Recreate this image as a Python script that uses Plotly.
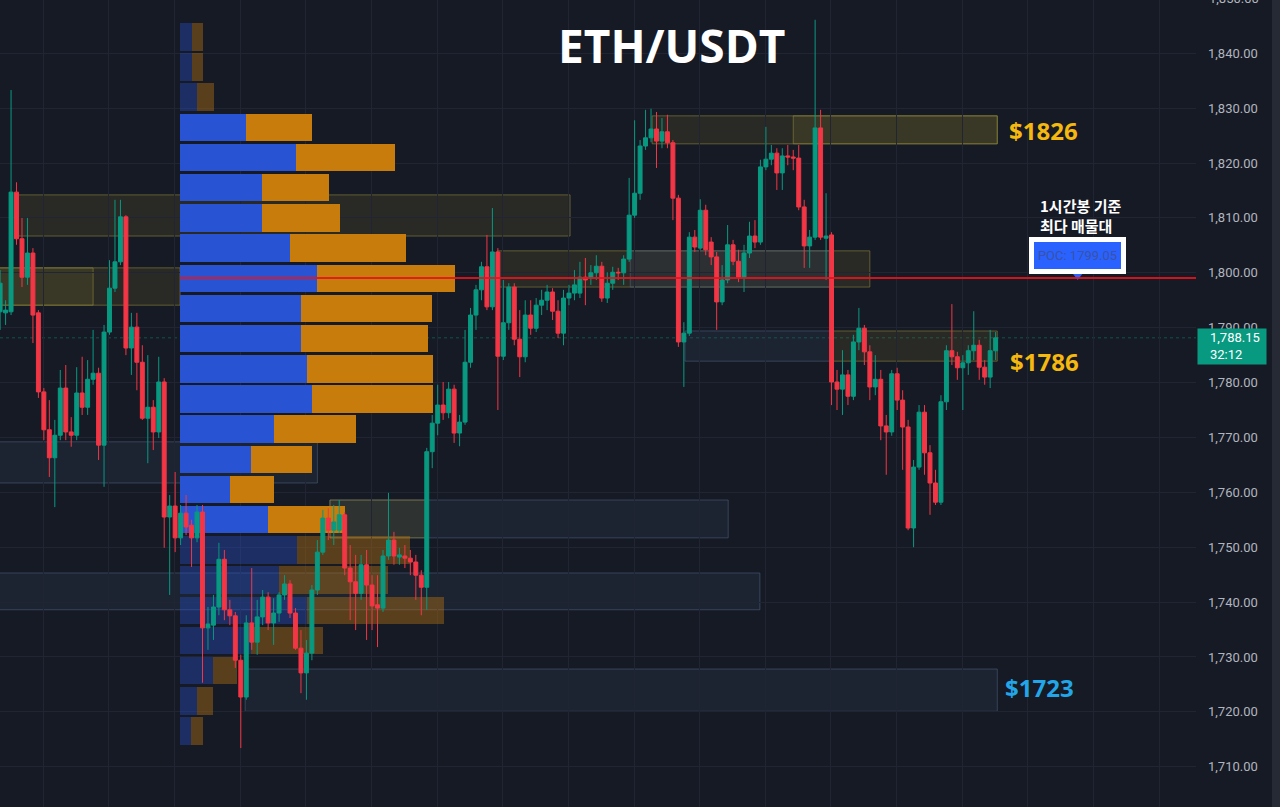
import plotly.graph_objects as go

# ---------------- data ----------------
opens = [
    1792.9, 1792.7, 1792.9, 1814.7, 1806.2, 1799.2, 1803.6, 1792.7, 1778.3, 1771.4,
    1766.3, 1770.4, 1779.0, 1771.0, 1770.4, 1778.1, 1775.5, 1780.6, 1781.7, 1768.6,
    1789.2, 1797.2, 1802.0, 1810.2, 1786.3, 1790.1, 1783.7, 1773.5, 1775.5, 1771.0,
    1780.1, 1755.5, 1757.5, 1751.7, 1756.2, 1754.0, 1751.7, 1756.4, 1735.3, 1735.8,
    1739.1, 1747.8, 1738.6, 1737.5, 1729.4, 1722.7, 1736.2, 1732.7, 1737.3, 1740.9,
    1736.2, 1738.0, 1741.3, 1743.3, 1738.0, 1731.6, 1727.1, 1730.7, 1742.2, 1749.1,
    1755.3, 1753.1, 1753.1, 1755.9, 1746.2, 1743.7, 1741.6, 1746.8, 1743.1, 1739.5,
    1738.9, 1748.4, 1751.3, 1748.2, 1748.4, 1748.0, 1747.3, 1744.9, 1742.7, 1767.4,
    1772.6, 1775.9, 1774.5, 1778.8, 1770.8, 1772.8, 1783.7, 1792.3, 1796.9, 1801.1,
    1793.8, 1803.8, 1784.8, 1790.9, 1797.4, 1787.9, 1784.7, 1792.3, 1789.9, 1794.1,
    1795.0, 1796.5, 1793.0, 1789.0, 1795.4, 1796.3, 1796.3, 1799.2, 1799.1, 1800.0,
    1801.2, 1795.4, 1798.1, 1800.1, 1800.0, 1802.5, 1810.5, 1814.5, 1823.1, 1824.6,
    1826.2, 1824.0, 1825.7, 1823.7, 1813.6, 1787.4, 1789.0, 1806.5, 1804.5, 1811.4,
    1805.6, 1802.9, 1794.7, 1798.7, 1805.1, 1802.1, 1799.2, 1803.6, 1806.7, 1805.6,
    1819.3, 1820.7, 1821.8, 1818.2, 1821.3, 1821.1, 1820.9, 1812.0, 1804.9, 1806.5,
    1826.4, 1806.3, 1806.9, 1780.1, 1778.8, 1781.4, 1777.5, 1787.4, 1789.9, 1785.6,
    1779.2, 1780.6, 1772.1, 1771.0, 1781.6, 1776.8, 1771.9, 1753.5, 1764.6, 1774.6,
    1767.2, 1761.7, 1758.2, 1776.5, 1785.8, 1784.7, 1782.7, 1783.6, 1785.8, 1786.8,
    1782.8, 1781.0, 1785.8]

highs = [
    1800.5, 1795.0, 1833.3, 1816.5, 1810.0, 1810.0, 1804.5, 1793.2, 1779.0, 1776.8,
    1773.2, 1782.3, 1783.2, 1773.7, 1782.8, 1784.7, 1784.1, 1789.6, 1782.7, 1790.5,
    1802.3, 1813.3, 1813.3, 1810.5, 1792.7, 1792.7, 1786.8, 1785.0, 1776.8, 1784.7,
    1780.8, 1759.5, 1763.7, 1757.7, 1759.5, 1755.0, 1757.7, 1757.7, 1739.1, 1741.3,
    1750.8, 1749.5, 1740.4, 1738.2, 1730.4, 1737.6, 1746.2, 1740.4, 1742.2, 1741.8,
    1740.7, 1741.8, 1744.9, 1744.0, 1738.9, 1734.9, 1733.1, 1743.1, 1751.3, 1756.8,
    1757.1, 1757.7, 1758.6, 1756.4, 1750.4, 1748.6, 1748.6, 1749.5, 1744.9, 1744.9,
    1749.5, 1759.9, 1752.8, 1749.9, 1750.4, 1749.5, 1748.6, 1745.8, 1768.1, 1774.1,
    1779.6, 1780.1, 1780.1, 1779.6, 1774.1, 1789.6, 1793.6, 1797.8, 1802.0, 1806.9,
    1811.8, 1804.5, 1798.7, 1798.1, 1798.1, 1793.2, 1795.0, 1795.0, 1795.4, 1796.9,
    1797.8, 1797.2, 1795.0, 1796.9, 1797.8, 1800.5, 1802.0, 1802.7, 1801.4, 1803.2,
    1802.0, 1800.1, 1801.1, 1800.9, 1803.2, 1817.3, 1827.8, 1824.2, 1829.7, 1829.9,
    1829.3, 1828.2, 1828.8, 1824.2, 1814.2, 1791.0, 1807.4, 1807.8, 1813.4, 1812.4,
    1806.5, 1803.8, 1801.4, 1808.7, 1806.0, 1804.2, 1805.1, 1809.3, 1809.6, 1820.6,
    1826.6, 1823.3, 1822.7, 1822.7, 1823.3, 1822.4, 1823.3, 1813.3, 1807.8, 1846.1,
    1829.7, 1814.5, 1807.4, 1782.3, 1785.9, 1782.3, 1788.7, 1793.6, 1790.5, 1786.8,
    1785.0, 1782.3, 1774.1, 1782.3, 1782.7, 1778.6, 1773.2, 1765.9, 1775.9, 1775.9,
    1768.6, 1764.1, 1777.7, 1786.8, 1794.3, 1785.6, 1785.0, 1786.8, 1793.0, 1787.8,
    1784.1, 1789.6, 1789.2]

lows = [
    1789.6, 1790.5, 1792.3, 1805.1, 1797.4, 1797.8, 1787.2, 1777.2, 1769.5, 1762.8,
    1757.3, 1769.5, 1769.5, 1768.3, 1769.5, 1774.1, 1774.1, 1779.6, 1765.9, 1761.0,
    1788.7, 1796.5, 1801.4, 1785.0, 1781.4, 1778.6, 1773.2, 1765.3, 1767.7, 1769.9,
    1749.9, 1741.3, 1749.1, 1750.4, 1752.2, 1746.4, 1750.9, 1725.3, 1731.3, 1733.1,
    1737.6, 1736.7, 1735.8, 1728.0, 1713.4, 1722.2, 1731.3, 1730.4, 1735.8, 1734.9,
    1732.2, 1736.4, 1740.4, 1737.1, 1731.3, 1723.4, 1722.2, 1729.4, 1741.3, 1748.6,
    1751.3, 1750.4, 1752.6, 1744.9, 1736.7, 1734.9, 1740.4, 1733.1, 1734.9, 1731.8,
    1738.2, 1747.7, 1746.8, 1746.8, 1746.2, 1744.9, 1740.4, 1737.6, 1738.6, 1764.4,
    1770.4, 1773.2, 1773.5, 1769.0, 1768.4, 1772.3, 1782.7, 1789.6, 1795.0, 1793.2,
    1793.2, 1775.0, 1784.1, 1789.6, 1786.8, 1781.0, 1783.7, 1788.7, 1789.2, 1792.3,
    1793.2, 1791.4, 1788.1, 1786.8, 1794.1, 1795.0, 1795.4, 1794.1, 1797.8, 1798.7,
    1794.7, 1794.5, 1796.9, 1798.7, 1797.8, 1802.0, 1810.0, 1813.3, 1822.4, 1823.8,
    1819.1, 1822.7, 1822.7, 1809.6, 1786.5, 1779.2, 1788.5, 1803.8, 1804.2, 1803.2,
    1801.4, 1789.6, 1794.1, 1798.1, 1801.4, 1798.3, 1796.5, 1802.7, 1804.5, 1805.1,
    1818.7, 1819.6, 1815.1, 1815.1, 1819.6, 1818.7, 1811.4, 1800.9, 1800.9, 1806.0,
    1806.0, 1798.7, 1775.9, 1775.0, 1774.1, 1775.9, 1776.8, 1785.9, 1783.2, 1776.8,
    1777.7, 1769.5, 1763.2, 1770.3, 1775.0, 1764.1, 1753.1, 1750.0, 1764.1, 1763.2,
    1755.9, 1757.7, 1757.7, 1775.0, 1783.2, 1780.5, 1775.0, 1781.4, 1784.1, 1780.5,
    1779.6, 1779.0, 1784.1]

closes = [
    1798.1, 1793.2, 1814.7, 1806.2, 1799.2, 1803.6, 1792.3, 1778.3, 1771.4, 1766.3,
    1770.4, 1779.0, 1771.0, 1770.4, 1778.1, 1775.5, 1780.6, 1781.7, 1768.6, 1789.2,
    1797.2, 1802.0, 1810.2, 1786.3, 1790.1, 1783.7, 1773.5, 1775.5, 1771.0, 1780.1,
    1755.5, 1757.5, 1751.7, 1756.2, 1753.7, 1751.7, 1756.4, 1735.3, 1736.0, 1739.1,
    1747.8, 1738.6, 1737.5, 1729.4, 1722.7, 1736.2, 1732.7, 1737.3, 1740.9, 1736.2,
    1738.0, 1741.3, 1743.3, 1738.0, 1731.6, 1727.1, 1730.7, 1742.2, 1749.1, 1755.3,
    1753.1, 1754.6, 1755.9, 1746.2, 1743.7, 1741.6, 1746.8, 1743.1, 1739.3, 1738.9,
    1748.4, 1751.3, 1748.4, 1748.6, 1748.0, 1747.3, 1744.9, 1742.7, 1767.4, 1772.6,
    1775.9, 1774.5, 1778.8, 1770.8, 1772.8, 1783.7, 1792.3, 1796.9, 1801.1, 1793.8,
    1803.8, 1784.8, 1790.9, 1797.4, 1787.9, 1784.7, 1792.3, 1789.9, 1794.1, 1795.0,
    1796.5, 1793.0, 1789.0, 1795.4, 1796.3, 1797.8, 1799.2, 1798.7, 1800.0, 1801.2,
    1795.4, 1798.1, 1800.1, 1800.0, 1802.5, 1810.5, 1814.5, 1823.1, 1824.6, 1826.2,
    1824.0, 1825.7, 1823.7, 1813.6, 1787.4, 1789.0, 1806.5, 1804.7, 1811.4, 1804.2,
    1802.9, 1794.7, 1798.7, 1805.1, 1802.1, 1799.2, 1803.6, 1806.7, 1805.6, 1819.3,
    1820.7, 1821.8, 1818.2, 1821.3, 1821.1, 1820.9, 1812.0, 1804.9, 1806.5, 1826.4,
    1806.5, 1806.7, 1780.1, 1778.8, 1781.4, 1777.5, 1787.4, 1789.9, 1785.6, 1779.2,
    1780.6, 1772.1, 1771.0, 1781.6, 1776.8, 1771.9, 1753.5, 1764.6, 1774.6, 1767.2,
    1761.7, 1758.2, 1776.5, 1785.8, 1784.7, 1782.7, 1783.6, 1785.8, 1786.8, 1782.8,
    1781.0, 1785.8, 1788.15]

candle_idx = list(range(len(opens)))

# volume profile (price bins of 5.5 USDT)
bin_centers = [1843.0, 1837.5, 1832.0, 1826.5, 1821.0, 1815.5, 1810.0, 1804.5,
               1799.0, 1793.5, 1788.0, 1782.5, 1777.0, 1771.5, 1766.0, 1760.5,
               1755.0, 1749.5, 1744.0, 1738.5, 1733.0, 1727.5, 1722.0, 1716.5]
buy_vol = [1.2, 1.2, 1.7, 6.6, 11.6, 8.2, 8.2, 11.0, 13.7, 12.1, 12.1, 12.7,
           13.2, 9.4, 7.1, 5.0, 8.8, 11.7, 9.9, 12.7, 7.1, 3.3, 1.7, 1.1]
sell_vol = [1.1, 1.1, 1.7, 6.6, 9.9, 6.7, 7.8, 11.6, 13.8, 13.1, 12.7, 12.6,
            12.1, 8.2, 6.1, 4.4, 7.7, 11.3, 10.9, 13.7, 7.2, 2.4, 1.6, 1.2]
va_high_bin = 1826.5
va_low_bin = 1755.0
poc_price = 1799.05
last_price = 1788.15
countdown = "32:12"

# zones (x in candle index, y in price)
zone_x0 = [119.2, 145.0, 3.3, -1.0, -1.0, 90.9, 115.2, 125.2, 152.3, -1.0, 60.3, 60.3, -1.0, 44.8]
zone_x1 = [182.3, 182.3, 104.2, 32.9, 17.0, 159.0, 151.7, 152.3, 182.3, 58.0, 133.1, 78.1, 138.9, 182.3]
zone_lo = [1823.5, 1823.5, 1806.7, 1794.1, 1794.1, 1797.4, 1797.4, 1783.9, 1783.9, 1761.7, 1751.7, 1751.7, 1738.6, 1720.1]
zone_hi = [1828.6, 1828.6, 1814.2, 1800.9, 1800.9, 1804.0, 1804.0, 1789.4, 1789.4, 1769.2, 1758.6, 1758.6, 1745.3, 1727.8]
zone_kind = ["supply", "supply", "supply", "supply", "supply", "supply", "demand", "demand",
             "supply", "demand", "demand", "supply", "demand", "demand"]

level_labels = ["$1826", "$1786", "$1723"]
level_label_y = [1826.0, 1783.8, 1724.5]
level_label_x = [184.1, 184.3, 183.4]
level_colors = ["#f5b80f", "#f5b80f", "#22a6e8"]

# ---------------- style ----------------
BG = "#161a25"
GRID = "#212533"
UP = "#089981"
DOWN = "#f23645"
PLOT_W = 1196.0

in_va = [va_low_bin <= c <= va_high_bin for c in bin_centers]
buy_colors = ["rgba(40,84,212,1)" if v else "rgba(40,84,212,0.36)" for v in in_va]
sell_colors = ["rgba(200,124,12,1)" if v else "rgba(200,124,12,0.38)" for v in in_va]

fig = go.Figure()

fig.add_trace(go.Bar(y=bin_centers, x=buy_vol, orientation="h", width=5.0,
                     marker=dict(color=buy_colors, line=dict(width=0)),
                     xaxis="x", yaxis="y", hoverinfo="skip", name="Buy"))
fig.add_trace(go.Bar(y=bin_centers, x=sell_vol, orientation="h", width=5.0,
                     marker=dict(color=sell_colors, line=dict(width=0)),
                     xaxis="x", yaxis="y", hoverinfo="skip", name="Sell"))

fig.add_trace(go.Candlestick(
    x=candle_idx, open=opens, high=highs, low=lows, close=closes,
    xaxis="x2", yaxis="y", whiskerwidth=0,
    increasing=dict(line=dict(color=UP, width=1), fillcolor=UP),
    decreasing=dict(line=dict(color=DOWN, width=1), fillcolor=DOWN),
    name="ETH/USDT"))

# POC pointer
fig.add_trace(go.Scatter(x=[197.0], y=[poc_price + 0.45], mode="markers",
                         marker=dict(symbol="triangle-down", size=9, color="#2962ff"),
                         xaxis="x2", yaxis="y", hoverinfo="skip"))

shapes = []
for x0, x1, lo, hi, kind in zip(zone_x0, zone_x1, zone_lo, zone_hi, zone_kind):
    if kind == "supply":
        fill = "rgba(140,128,45,0.16)"
        edge = "rgba(150,140,60,0.55)"
    else:
        fill = "rgba(60,82,115,0.17)"
        edge = "rgba(80,100,130,0.55)"
    shapes.append(dict(type="rect", xref="x2", yref="y", x0=x0, x1=x1, y0=lo, y1=hi,
                       fillcolor=fill, line=dict(color=edge, width=1), layer="below"))

# current price dotted line
shapes.append(dict(type="line", xref="paper", yref="y", x0=0, x1=1, y0=last_price, y1=last_price,
                   line=dict(color="rgba(8,153,129,0.45)", width=1, dash="dot"), layer="below"))
# POC line
shapes.append(dict(type="line", xref="x", yref="y", x0=0, x1=101.6, y0=poc_price, y1=poc_price,
                   line=dict(color="rgba(228,20,30,0.9)", width=2), layer="above"))
# right edge strip
shapes.append(dict(type="rect", xref="paper", yref="paper", x0=1272 / PLOT_W, x1=1290 / PLOT_W,
                   y0=0, y1=1, fillcolor="#262a35", line=dict(width=0), layer="above"))

annotations = [
    dict(text="<b>ETH/USDT</b>", xref="paper", yref="paper", x=671 / PLOT_W, y=1 - 45 / 807,
         showarrow=False, font=dict(family="Open Sans", size=46, color="#ffffff"),
         xanchor="center", yanchor="middle"),
    dict(text="<b>1시간봉 기준<br>최다 매물대</b>", xref="x2", yref="y", x=189.8, y=1810.4,
         showarrow=False, align="left", xanchor="left", yanchor="middle",
         font=dict(family="Noto Sans CJK KR", size=15, color="#ffffff")),
    dict(text="POC: 1799.05", xref="x2", yref="y", x=197.0, y=1803.24, showarrow=False,
         font=dict(family="Roboto", size=13, color="#3b52a6"), bgcolor="#2962ff",
         bordercolor="#ffffff", borderwidth=5, borderpad=0, width=87, height=27,
         xanchor="center", yanchor="middle"),
    dict(text=" ", xref="paper", yref="y", x=1197 / PLOT_W, y=1786.58, showarrow=False,
         bgcolor=UP, borderpad=0, width=68, height=35, xanchor="left", yanchor="middle"),
    dict(text=f"{last_price:,.2f}<br>{countdown}", xref="paper", yref="y", x=1208 / PLOT_W,
         y=1786.58, showarrow=False, align="left", xanchor="left", yanchor="middle",
         font=dict(family="Roboto", size=13, color="#ffffff")),
    dict(text="1,850.00", xref="paper", yref="paper", x=1207 / PLOT_W, y=1 + 1.6 / 807,
         showarrow=False, xanchor="left", yanchor="middle",
         font=dict(family="Roboto", size=13, color="#b2b5be")),
]
for lab, ly, lx, col in zip(level_labels, level_label_y, level_label_x, level_colors):
    annotations.append(dict(text=f"<b>{lab}</b>", xref="x2", yref="y", x=lx, y=ly,
                            showarrow=False, xanchor="left", yanchor="middle",
                            font=dict(family="Open Sans", size=24, color=col)))

fig.update_layout(
    template="none",
    width=1280, height=807,
    margin=dict(l=0, r=84, t=0, b=0),
    paper_bgcolor=BG, plot_bgcolor=BG,
    showlegend=False,
    barmode="stack",
    boxgap=0.28, boxgroupgap=0,
    font=dict(family="Roboto", color="#b2b5be"),
    xaxis=dict(range=[-18, 101.6], visible=False, showgrid=False, zeroline=False,
               fixedrange=True),
    xaxis2=dict(overlaying="x", range=[-0.02, 218.63], showticklabels=False,
                showgrid=True, gridcolor=GRID, gridwidth=1, tick0=7.9, dtick=12,
                zeroline=False, showline=False, ticks="",
                rangeslider=dict(visible=False)),
    yaxis=dict(side="right", range=[1702.66, 1849.71], tick0=1700, dtick=10,
               tickformat=",.2f", showgrid=True, gridcolor=GRID, gridwidth=1,
               zeroline=False, showline=False, ticks="", ticklabelstandoff=11,
               tickfont=dict(family="Roboto", size=13, color="#b2b5be"),
               automargin=False),
    shapes=shapes,
    annotations=annotations,
    hovermode=False,
)

fig.write_html("out.html")
